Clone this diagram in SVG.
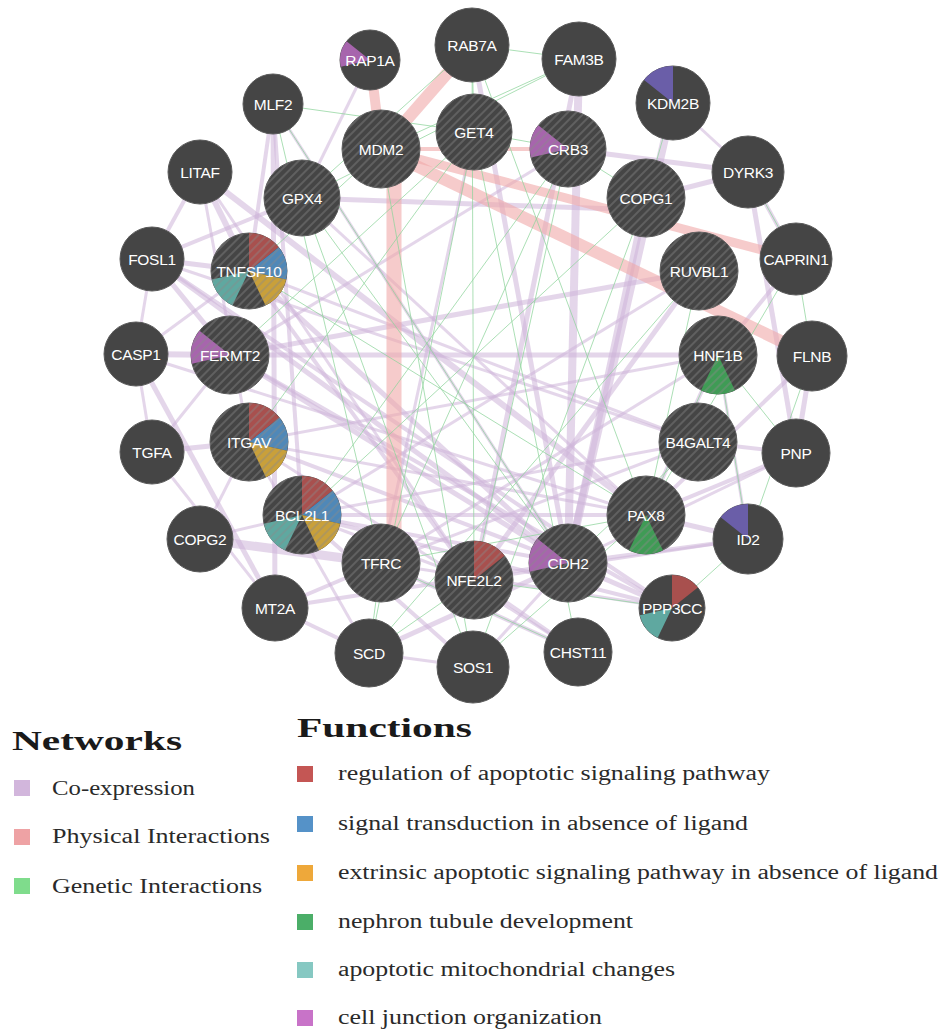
<svg xmlns="http://www.w3.org/2000/svg" xmlns:xlink="http://www.w3.org/1999/xlink" width="944" height="1034" viewBox="0 0 944 1034">
<style>
.co{stroke:#cdb5d8;stroke-opacity:0.55;fill:none}
.ph{stroke:#f0a8a8;stroke-opacity:0.6;fill:none}
.ge{stroke:#8fd49c;stroke-opacity:0.75;stroke-width:1;fill:none}
.n{fill:#454545;stroke:#5a5a5a;stroke-width:1}
.h{fill:url(#hatch)}
.lb{font-family:"Liberation Sans",Arial,sans-serif;font-size:15.5px;fill:#fff;text-anchor:middle;letter-spacing:-0.3px}
.c0{fill:#a8504e}.c1{fill:#4f88b8}.c2{fill:#c9a03a}.c3{fill:#3f9b55}.c4{fill:#5fa8a0}.c5{fill:#a765ad}.c6{fill:#6a5ea8}
.lt{font-family:"Liberation Serif","Times New Roman",serif;font-weight:bold;font-size:28px;fill:#1a1a1a}
.li{font-family:"Liberation Serif","Times New Roman",serif;font-size:20px;fill:#2a2a2a}
</style>
<defs>
<pattern id="hatch" width="6" height="6" patternUnits="userSpaceOnUse" patternTransform="rotate(45)">
<rect width="2" height="6" fill="#8a8a8a" fill-opacity="0.4"/>
</pattern>
<path id="s0" d="M0 0L0 -1A1 1 0 0 1 0.7818 -0.6235Z"/>
<path id="s1" d="M0 0L0.7818 -0.6235A1 1 0 0 1 0.9749 0.2225Z"/>
<path id="s2" d="M0 0L0.9749 0.2225A1 1 0 0 1 0.4339 0.901Z"/>
<path id="s3" d="M0 0L0.4339 0.901A1 1 0 0 1 -0.4339 0.901Z"/>
<path id="s4" d="M0 0L-0.4339 0.901A1 1 0 0 1 -0.9749 0.2225Z"/>
<path id="s5" d="M0 0L-0.9749 0.2225A1 1 0 0 1 -0.7818 -0.6235Z"/>
<path id="s6" d="M0 0L-0.7818 -0.6235A1 1 0 0 1 0 -1Z"/>
</defs>
<rect width="944" height="1034" fill="#fff"/>
<g id="connectors">
<g id="coexpression">
<line class="co" stroke-width="4" x1="200" y1="172" x2="152" y2="259"/>
<line class="co" stroke-width="6" x1="200" y1="172" x2="249" y2="271"/>
<line class="co" stroke-width="6" x1="200" y1="172" x2="646" y2="515"/>
<line class="co" stroke-width="3" x1="200" y1="172" x2="249" y2="442"/>
<line class="co" stroke-width="3" x1="200" y1="172" x2="474" y2="580"/>
<line class="co" stroke-width="5" x1="152" y1="259" x2="249" y2="271"/>
<line class="co" stroke-width="3" x1="152" y1="259" x2="136" y2="354"/>
<line class="co" stroke-width="5" x1="152" y1="259" x2="230" y2="355"/>
<line class="co" stroke-width="5" x1="152" y1="259" x2="568" y2="563"/>
<line class="co" stroke-width="3" x1="152" y1="259" x2="698" y2="442"/>
<line class="co" stroke-width="4" x1="152" y1="259" x2="672" y2="608"/>
<line class="co" stroke-width="6" x1="136" y1="354" x2="230" y2="355"/>
<line class="co" stroke-width="3" x1="136" y1="354" x2="152" y2="452"/>
<line class="co" stroke-width="5" x1="136" y1="354" x2="275" y2="608"/>
<line class="co" stroke-width="3" x1="136" y1="354" x2="249" y2="271"/>
<line class="co" stroke-width="3" x1="136" y1="354" x2="646" y2="515"/>
<line class="co" stroke-width="5" x1="152" y1="452" x2="249" y2="442"/>
<line class="co" stroke-width="3" x1="152" y1="452" x2="230" y2="355"/>
<line class="co" stroke-width="3" x1="152" y1="452" x2="275" y2="608"/>
<line class="co" stroke-width="9" x1="200" y1="539" x2="381" y2="563"/>
<line class="co" stroke-width="3" x1="200" y1="539" x2="249" y2="442"/>
<line class="co" stroke-width="3" x1="200" y1="539" x2="302" y2="515"/>
<line class="co" stroke-width="5" x1="273" y1="104" x2="275" y2="608"/>
<line class="co" stroke-width="4" x1="273" y1="104" x2="302" y2="515"/>
<line class="co" stroke-width="4" x1="273" y1="104" x2="249" y2="271"/>
<line class="co" stroke-width="5" x1="302" y1="198" x2="646" y2="210"/>
<line class="co" stroke-width="4" x1="302" y1="198" x2="152" y2="259"/>
<line class="co" stroke-width="3" x1="302" y1="198" x2="646" y2="515"/>
<line class="co" stroke-width="5" x1="230" y1="355" x2="699" y2="271"/>
<line class="co" stroke-width="5" x1="230" y1="355" x2="718" y2="355"/>
<line class="co" stroke-width="5" x1="230" y1="355" x2="568" y2="563"/>
<line class="co" stroke-width="4" x1="230" y1="355" x2="672" y2="608"/>
<line class="co" stroke-width="5" x1="249" y1="271" x2="568" y2="563"/>
<line class="co" stroke-width="4" x1="249" y1="271" x2="474" y2="580"/>
<line class="co" stroke-width="3" x1="249" y1="271" x2="698" y2="442"/>
<line class="co" stroke-width="4" x1="249" y1="442" x2="568" y2="563"/>
<line class="co" stroke-width="3" x1="249" y1="442" x2="646" y2="515"/>
<line class="co" stroke-width="3" x1="249" y1="442" x2="718" y2="355"/>
<line class="co" stroke-width="4" x1="302" y1="515" x2="646" y2="515"/>
<line class="co" stroke-width="4" x1="302" y1="515" x2="568" y2="563"/>
<line class="co" stroke-width="3" x1="302" y1="515" x2="698" y2="442"/>
<line class="co" stroke-width="4" x1="275" y1="608" x2="381" y2="563"/>
<line class="co" stroke-width="4" x1="275" y1="608" x2="369" y2="653"/>
<line class="co" stroke-width="4" x1="275" y1="608" x2="568" y2="563"/>
<line class="co" stroke-width="5" x1="369" y1="653" x2="568" y2="563"/>
<line class="co" stroke-width="3" x1="369" y1="653" x2="249" y2="442"/>
<line class="co" stroke-width="4" x1="473" y1="667" x2="302" y2="515"/>
<line class="co" stroke-width="3" x1="473" y1="667" x2="568" y2="563"/>
<line class="co" stroke-width="3" x1="473" y1="667" x2="369" y2="653"/>
<line class="co" stroke-width="4" x1="578" y1="652" x2="474" y2="580"/>
<line class="co" stroke-width="4" x1="578" y1="652" x2="381" y2="563"/>
<line class="co" stroke-width="3" x1="578" y1="652" x2="249" y2="442"/>
<line class="co" stroke-width="5" x1="672" y1="608" x2="568" y2="563"/>
<line class="co" stroke-width="4" x1="672" y1="608" x2="302" y2="515"/>
<line class="co" stroke-width="3" x1="672" y1="608" x2="381" y2="563"/>
<line class="co" stroke-width="5" x1="748" y1="539" x2="646" y2="515"/>
<line class="co" stroke-width="4" x1="748" y1="539" x2="568" y2="563"/>
<line class="co" stroke-width="3" x1="748" y1="539" x2="474" y2="580"/>
<line class="co" stroke-width="3" x1="748" y1="539" x2="718" y2="355"/>
<line class="co" stroke-width="4" x1="796" y1="453" x2="646" y2="515"/>
<line class="co" stroke-width="3" x1="796" y1="453" x2="568" y2="563"/>
<line class="co" stroke-width="4" x1="796" y1="453" x2="698" y2="442"/>
<line class="co" stroke-width="5" x1="812" y1="356" x2="796" y2="453"/>
<line class="co" stroke-width="4" x1="812" y1="356" x2="646" y2="515"/>
<line class="co" stroke-width="5" x1="748" y1="172" x2="796" y2="453"/>
<line class="co" stroke-width="4" x1="748" y1="172" x2="796" y2="259"/>
<line class="co" stroke-width="5" x1="748" y1="172" x2="646" y2="198"/>
<line class="co" stroke-width="5" x1="568" y1="149" x2="748" y2="172"/>
<line class="co" stroke-width="8" x1="673" y1="103" x2="568" y2="563"/>
<line class="co" stroke-width="8" x1="579" y1="59" x2="568" y2="563"/>
<line class="co" stroke-width="5" x1="579" y1="59" x2="474" y2="580"/>
<line class="co" stroke-width="7" x1="646" y1="198" x2="568" y2="563"/>
<line class="co" stroke-width="4" x1="796" y1="259" x2="718" y2="355"/>
<line class="co" stroke-width="5" x1="699" y1="271" x2="474" y2="580"/>
<line class="co" stroke-width="3" x1="699" y1="271" x2="302" y2="515"/>
<line class="co" stroke-width="5" x1="472" y1="45" x2="568" y2="563"/>
<line class="co" stroke-width="3" x1="370" y1="60" x2="302" y2="198"/>
<line class="co" stroke-width="3" x1="474" y1="132" x2="381" y2="563"/>
<line class="co" stroke-width="4" x1="718" y1="355" x2="646" y2="515"/>
<line class="co" stroke-width="3" x1="698" y1="442" x2="381" y2="563"/>
<line class="co" stroke-width="3" x1="568" y1="149" x2="230" y2="355"/>
<line class="co" stroke-width="3" x1="673" y1="103" x2="748" y2="172"/>
<line class="co" stroke-width="3" x1="381" y1="563" x2="718" y2="355"/>
<line class="co" stroke-width="3" x1="474" y1="580" x2="302" y2="515"/>
<line class="co" stroke-width="3" x1="273" y1="104" x2="568" y2="563"/>
</g>
<g id="physical">
<line class="ph" stroke-width="12" x1="472" y1="45" x2="381" y2="149"/>
<line class="ph" stroke-width="10" x1="370" y1="60" x2="381" y2="149"/>
<line class="ph" stroke-width="15" x1="394" y1="150" x2="394" y2="560"/>
<line class="ph" stroke-width="12" x1="381" y1="149" x2="812" y2="356"/>
<line class="ph" stroke-width="9" x1="381" y1="149" x2="796" y2="259"/>
<line class="ph" stroke-width="4" x1="381" y1="149" x2="568" y2="149"/>
</g>
<g id="genetic">
<line class="ge" x1="273" y1="104" x2="474" y2="132"/>
<line class="ge" x1="273" y1="104" x2="568" y2="563"/>
<line class="ge" x1="273" y1="104" x2="381" y2="563"/>
<line class="ge" x1="472" y1="45" x2="474" y2="132"/>
<line class="ge" x1="472" y1="45" x2="474" y2="580"/>
<line class="ge" x1="472" y1="45" x2="646" y2="515"/>
<line class="ge" x1="472" y1="45" x2="302" y2="198"/>
<line class="ge" x1="579" y1="59" x2="472" y2="45"/>
<line class="ge" x1="579" y1="59" x2="381" y2="149"/>
<line class="ge" x1="579" y1="59" x2="302" y2="198"/>
<line class="ge" x1="474" y1="132" x2="369" y2="653"/>
<line class="ge" x1="474" y1="132" x2="578" y2="652"/>
<line class="ge" x1="474" y1="132" x2="568" y2="149"/>
<line class="ge" x1="568" y1="149" x2="381" y2="563"/>
<line class="ge" x1="568" y1="149" x2="474" y2="580"/>
<line class="ge" x1="568" y1="149" x2="646" y2="198"/>
<line class="ge" x1="302" y1="198" x2="568" y2="563"/>
<line class="ge" x1="302" y1="198" x2="473" y2="667"/>
<line class="ge" x1="381" y1="149" x2="473" y2="667"/>
<line class="ge" x1="646" y1="198" x2="473" y2="667"/>
<line class="ge" x1="646" y1="198" x2="302" y2="515"/>
<line class="ge" x1="699" y1="271" x2="369" y2="653"/>
<line class="ge" x1="699" y1="271" x2="646" y2="515"/>
<line class="ge" x1="718" y1="355" x2="748" y2="539"/>
<line class="ge" x1="718" y1="355" x2="646" y2="515"/>
<line class="ge" x1="796" y1="259" x2="812" y2="356"/>
<line class="ge" x1="796" y1="259" x2="646" y2="515"/>
<line class="ge" x1="812" y1="356" x2="748" y2="539"/>
<line class="ge" x1="796" y1="453" x2="718" y2="355"/>
<line class="ge" x1="698" y1="442" x2="568" y2="563"/>
<line class="ge" x1="646" y1="515" x2="381" y2="563"/>
<line class="ge" x1="672" y1="608" x2="474" y2="580"/>
<line class="ge" x1="578" y1="652" x2="381" y2="563"/>
<line class="ge" x1="473" y1="667" x2="646" y2="515"/>
<line class="ge" x1="249" y1="271" x2="646" y2="515"/>
<line class="ge" x1="249" y1="442" x2="474" y2="132"/>
<line class="ge" x1="302" y1="515" x2="568" y2="149"/>
<line class="ge" x1="381" y1="563" x2="369" y2="653"/>
<line class="ge" x1="474" y1="580" x2="369" y2="653"/>
<line class="ge" x1="748" y1="172" x2="796" y2="259"/>
<line class="ge" x1="673" y1="103" x2="646" y2="198"/>
<line class="ge" x1="748" y1="539" x2="672" y2="608"/>
<line class="ge" x1="230" y1="355" x2="474" y2="132"/>
<line class="ge" x1="249" y1="271" x2="381" y2="149"/>
</g>
</g>
<g id="nodes">
<g id="RAP1A"><circle class="n" cx="370" cy="60" r="30"/><use href="#s5" class="c5" transform="translate(370,60) scale(30)"/><text class="lb" x="370" y="65.5">RAP1A</text></g>
<g id="RAB7A"><circle class="n" cx="472" cy="45" r="37"/><text class="lb" x="472" y="50.5">RAB7A</text></g>
<g id="FAM3B"><circle class="n" cx="579" cy="59" r="37"/><text class="lb" x="579" y="64.5">FAM3B</text></g>
<g id="MLF2"><circle class="n" cx="273" cy="104" r="30"/><text class="lb" x="273" y="109.5">MLF2</text></g>
<g id="MDM2"><circle class="n" cx="381" cy="149" r="39"/><circle class="h" cx="381" cy="149" r="39"/><text class="lb" x="381" y="154.5">MDM2</text></g>
<g id="GET4"><circle class="n" cx="474" cy="132" r="38"/><circle class="h" cx="474" cy="132" r="38"/><text class="lb" x="474" y="137.5">GET4</text></g>
<g id="CRB3"><circle class="n" cx="568" cy="149" r="38"/><use href="#s5" class="c5" transform="translate(568,149) scale(38)"/><circle class="h" cx="568" cy="149" r="38"/><text class="lb" x="568" y="154.5">CRB3</text></g>
<g id="KDM2B"><circle class="n" cx="673" cy="103" r="37"/><use href="#s6" class="c6" transform="translate(673,103) scale(37)"/><text class="lb" x="673" y="108.5">KDM2B</text></g>
<g id="LITAF"><circle class="n" cx="200" cy="172" r="32"/><text class="lb" x="200" y="177.5">LITAF</text></g>
<g id="GPX4"><circle class="n" cx="302" cy="198" r="38"/><circle class="h" cx="302" cy="198" r="38"/><text class="lb" x="302" y="203.5">GPX4</text></g>
<g id="COPG1"><circle class="n" cx="646" cy="198" r="39"/><circle class="h" cx="646" cy="198" r="39"/><text class="lb" x="646" y="203.5">COPG1</text></g>
<g id="DYRK3"><circle class="n" cx="748" cy="172" r="36"/><text class="lb" x="748" y="177.5">DYRK3</text></g>
<g id="FOSL1"><circle class="n" cx="152" cy="259" r="32"/><text class="lb" x="152" y="264.5">FOSL1</text></g>
<g id="TNFSF10"><circle class="n" cx="249" cy="271" r="38"/><use href="#s0" class="c0" transform="translate(249,271) scale(38)"/><use href="#s1" class="c1" transform="translate(249,271) scale(38)"/><use href="#s2" class="c2" transform="translate(249,271) scale(38)"/><use href="#s4" class="c4" transform="translate(249,271) scale(38)"/><circle class="h" cx="249" cy="271" r="38"/><text class="lb" x="249" y="276.5">TNFSF10</text></g>
<g id="RUVBL1"><circle class="n" cx="699" cy="271" r="39"/><circle class="h" cx="699" cy="271" r="39"/><text class="lb" x="699" y="276.5">RUVBL1</text></g>
<g id="CAPRIN1"><circle class="n" cx="796" cy="259" r="36"/><text class="lb" x="796" y="264.5">CAPRIN1</text></g>
<g id="CASP1"><circle class="n" cx="136" cy="354" r="32"/><text class="lb" x="136" y="359.5">CASP1</text></g>
<g id="FERMT2"><circle class="n" cx="230" cy="355" r="39"/><use href="#s5" class="c5" transform="translate(230,355) scale(39)"/><circle class="h" cx="230" cy="355" r="39"/><text class="lb" x="230" y="360.5">FERMT2</text></g>
<g id="HNF1B"><circle class="n" cx="718" cy="355" r="39"/><use href="#s3" class="c3" transform="translate(718,355) scale(39)"/><circle class="h" cx="718" cy="355" r="39"/><text class="lb" x="718" y="360.5">HNF1B</text></g>
<g id="FLNB"><circle class="n" cx="812" cy="356" r="35"/><text class="lb" x="812" y="361.5">FLNB</text></g>
<g id="TGFA"><circle class="n" cx="152" cy="452" r="32"/><text class="lb" x="152" y="457.5">TGFA</text></g>
<g id="ITGAV"><circle class="n" cx="249" cy="442" r="39"/><use href="#s0" class="c0" transform="translate(249,442) scale(39)"/><use href="#s1" class="c1" transform="translate(249,442) scale(39)"/><use href="#s2" class="c2" transform="translate(249,442) scale(39)"/><circle class="h" cx="249" cy="442" r="39"/><text class="lb" x="249" y="447.5">ITGAV</text></g>
<g id="B4GALT4"><circle class="n" cx="698" cy="442" r="39"/><circle class="h" cx="698" cy="442" r="39"/><text class="lb" x="698" y="447.5">B4GALT4</text></g>
<g id="PNP"><circle class="n" cx="796" cy="453" r="34"/><text class="lb" x="796" y="458.5">PNP</text></g>
<g id="COPG2"><circle class="n" cx="200" cy="539" r="33"/><text class="lb" x="200" y="544.5">COPG2</text></g>
<g id="BCL2L1"><circle class="n" cx="302" cy="515" r="39"/><use href="#s0" class="c0" transform="translate(302,515) scale(39)"/><use href="#s1" class="c1" transform="translate(302,515) scale(39)"/><use href="#s2" class="c2" transform="translate(302,515) scale(39)"/><use href="#s4" class="c4" transform="translate(302,515) scale(39)"/><circle class="h" cx="302" cy="515" r="39"/><text class="lb" x="302" y="520.5">BCL2L1</text></g>
<g id="PAX8"><circle class="n" cx="646" cy="515" r="39"/><use href="#s3" class="c3" transform="translate(646,515) scale(39)"/><circle class="h" cx="646" cy="515" r="39"/><text class="lb" x="646" y="520.5">PAX8</text></g>
<g id="ID2"><circle class="n" cx="748" cy="539" r="35"/><use href="#s6" class="c6" transform="translate(748,539) scale(35)"/><text class="lb" x="748" y="544.5">ID2</text></g>
<g id="MT2A"><circle class="n" cx="275" cy="608" r="33"/><text class="lb" x="275" y="613.5">MT2A</text></g>
<g id="TFRC"><circle class="n" cx="381" cy="563" r="39"/><circle class="h" cx="381" cy="563" r="39"/><text class="lb" x="381" y="568.5">TFRC</text></g>
<g id="NFE2L2"><circle class="n" cx="474" cy="580" r="39"/><use href="#s0" class="c0" transform="translate(474,580) scale(39)"/><circle class="h" cx="474" cy="580" r="39"/><text class="lb" x="474" y="585.5">NFE2L2</text></g>
<g id="CDH2"><circle class="n" cx="568" cy="563" r="39"/><use href="#s5" class="c5" transform="translate(568,563) scale(39)"/><circle class="h" cx="568" cy="563" r="39"/><text class="lb" x="568" y="568.5">CDH2</text></g>
<g id="PPP3CC"><circle class="n" cx="672" cy="608" r="33"/><use href="#s0" class="c0" transform="translate(672,608) scale(33)"/><use href="#s4" class="c4" transform="translate(672,608) scale(33)"/><text class="lb" x="672" y="613.5">PPP3CC</text></g>
<g id="SCD"><circle class="n" cx="369" cy="653" r="34"/><text class="lb" x="369" y="658.5">SCD</text></g>
<g id="SOS1"><circle class="n" cx="473" cy="667" r="36"/><text class="lb" x="473" y="672.5">SOS1</text></g>
<g id="CHST11"><circle class="n" cx="578" cy="652" r="34"/><text class="lb" x="578" y="657.5">CHST11</text></g>
</g>
<g id="legend-networks">
<text class="lt" x="12" y="750" textLength="170" lengthAdjust="spacingAndGlyphs">Networks</text>
<rect x="14" y="780" width="16" height="16" fill="#d2b6dc"/>
<text class="li" x="52" y="795" textLength="143" lengthAdjust="spacingAndGlyphs">Co-expression</text>
<rect x="14" y="829" width="16" height="16" fill="#eea2a4"/>
<text class="li" x="52" y="843" textLength="218" lengthAdjust="spacingAndGlyphs">Physical Interactions</text>
<rect x="14" y="878" width="16" height="16" fill="#7fdc8c"/>
<text class="li" x="52" y="893" textLength="210" lengthAdjust="spacingAndGlyphs">Genetic Interactions</text>
</g>
<g id="legend-functions">
<text class="lt" x="297" y="737" textLength="175" lengthAdjust="spacingAndGlyphs">Functions</text>
<rect x="297" y="766" width="16" height="16" fill="#c45654"/>
<text class="li" x="338" y="780" textLength="432" lengthAdjust="spacingAndGlyphs">regulation of apoptotic signaling pathway</text>
<rect x="297" y="816" width="16" height="16" fill="#5592c8"/>
<text class="li" x="338" y="830" textLength="410" lengthAdjust="spacingAndGlyphs">signal transduction in absence of ligand</text>
<rect x="297" y="865" width="16" height="16" fill="#eea83a"/>
<text class="li" x="338" y="879" textLength="600" lengthAdjust="spacingAndGlyphs">extrinsic apoptotic signaling pathway in absence of ligand</text>
<rect x="297" y="914" width="16" height="16" fill="#4bae68"/>
<text class="li" x="338" y="928" textLength="295" lengthAdjust="spacingAndGlyphs">nephron tubule development</text>
<rect x="297" y="962" width="16" height="16" fill="#86c8c2"/>
<text class="li" x="338" y="976" textLength="337" lengthAdjust="spacingAndGlyphs">apoptotic mitochondrial changes</text>
<rect x="297" y="1010" width="16" height="16" fill="#c873c8"/>
<text class="li" x="338" y="1024" textLength="264" lengthAdjust="spacingAndGlyphs">cell junction organization</text>
</g>
</svg>
